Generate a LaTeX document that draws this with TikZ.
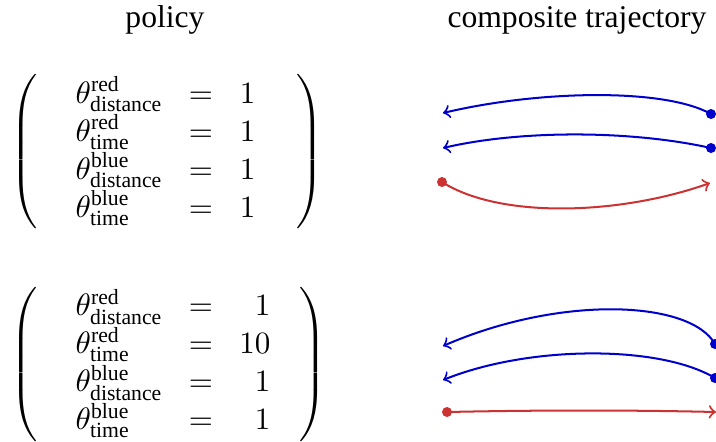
\documentclass[tikz,border=0pt]{standalone}
\usepackage{amsmath}
\usepackage{graphicx}
\usepackage[no-math]{fontspec}
\setmainfont{Liberation Serif}
\definecolor{pblue}{RGB}{0,0,205}
\definecolor{pred}{RGB}{205,50,50}
\tikzset{
  title/.style={anchor=base, inner sep=0pt, font=\fontsize{10.2}{12}\selectfont},
  var/.style={anchor=base west, inner sep=0pt},
  eq/.style={anchor=base, inner sep=0pt},
  num/.style={anchor=base east, inner sep=0pt},
  paren/.style={inner sep=0pt},
  traj/.style={line width=0.65pt, ->},
  dot/.style={circle, inner sep=0pt, minimum size=10*0.3226pt, fill=#1},
}
\newcommand{\lparen}{\scalebox{1}[0.92]{\delimiterfactor=1000 \delimitershortfall=0pt $\left(\vcenter{\hbox{\rule{0pt}{48.5pt}}}\right.$}}
\newcommand{\rparen}{\scalebox{1}[0.92]{\delimiterfactor=1000 \delimitershortfall=0pt $\left.\vcenter{\hbox{\rule{0pt}{48.5pt}}}\right)$}}
\begin{document}
\begin{tikzpicture}[x=0.3226pt, y=-0.3226pt]
\useasboundingbox (0,0) rectangle (716,441);
% titles
\node[title] (tp) at (165,27) {policy};
\node[title] (tc) at (577,27) {composite trajectory};

% top matrix
\node[paren, anchor=west] (lp1) at (10,151.5) {\lparen};
\node[paren, anchor=east] (rp1) at (324,151.5) {\rparen};
\node[var] (a1) at (75,103) {$\theta^{\text{red}}_{\text{distance}}$};
\node[var] (a2) at (75,141) {$\theta^{\text{red}}_{\text{time}}$};
\node[var] (a3) at (75,179) {$\theta^{\text{blue}}_{\text{distance}}$};
\node[var] (a4) at (75,217) {$\theta^{\text{blue}}_{\text{time}}$};
\node[eq] (e1) at (201,103) {$=$};
\node[eq] (e2) at (201,141) {$=$};
\node[eq] (e3) at (201,179) {$=$};
\node[eq] (e4) at (201,217) {$=$};
\node[num] (n1) at (256,103) {$1$};
\node[num] (n2) at (256,141) {$1$};
\node[num] (n3) at (256,179) {$1$};
\node[num] (n4) at (256,217) {$1$};

% bottom matrix
\node[paren, anchor=west] (lp2) at (10,364.5) {\lparen};
\node[paren, anchor=east] (rp2) at (327,364.5) {\rparen};
\node[var] (b1) at (75,315.5) {$\theta^{\text{red}}_{\text{distance}}$};
\node[var] (b2) at (75,353.5) {$\theta^{\text{red}}_{\text{time}}$};
\node[var] (b3) at (75,391.5) {$\theta^{\text{blue}}_{\text{distance}}$};
\node[var] (b4) at (75,429.5) {$\theta^{\text{blue}}_{\text{time}}$};
\node[eq] (f1) at (201,315.5) {$=$};
\node[eq] (f2) at (201,353.5) {$=$};
\node[eq] (f3) at (201,391.5) {$=$};
\node[eq] (f4) at (201,429.5) {$=$};
\node[num] (m1) at (271,315.5) {$1$};
\node[num] (m2) at (271,353.5) {$10$};
\node[num] (m3) at (271,391.5) {$1$};
\node[num] (m4) at (271,429.5) {$1$};

% top trajectories
\coordinate (s1) at (711,114);  \coordinate (t1) at (443,113);
\coordinate (s2) at (711,148);  \coordinate (t2) at (443,148);
\coordinate (s3) at (442,182);  \coordinate (t3) at (710,183);
\draw[traj, pblue] (s1) .. controls (665,88) and (540,90) .. (t1);
\draw[traj, pblue] (s2) .. controls (630,130) and (520,130) .. (t2);
\draw[traj, pred] (s3) .. controls (500,219) and (620,215) .. (t3);
\node[dot=pblue] (d1) at (s1) {};
\node[dot=pblue] (d2) at (s2) {};
\node[dot=pred] (d3) at (s3) {};

% bottom trajectories
\coordinate (u1) at (715,344);  \coordinate (v1) at (443,346);
\coordinate (u2) at (715,378);  \coordinate (v2) at (443,380);
\coordinate (u3) at (447,412);  \coordinate (v3) at (716,412);
\draw[traj, pblue] (u1) .. controls (690,300) and (560,295) .. (v1);
\draw[traj, pblue] (u2) .. controls (660,345) and (530,345) .. (v2);
\draw[traj, pred] (u3) .. controls (540,410) and (630,410) .. (v3);
\node[dot=pblue] (g1) at (u1) {};
\node[dot=pblue] (g2) at (u2) {};
\node[dot=pred] (g3) at (u3) {};
\end{tikzpicture}
\end{document}
